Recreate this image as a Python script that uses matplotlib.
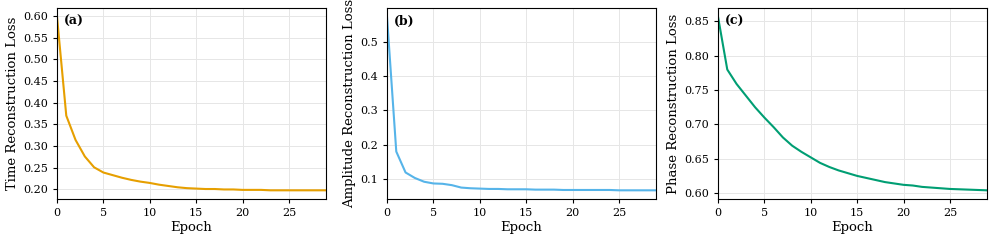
import matplotlib
matplotlib.use("Agg")
import matplotlib.pyplot as plt
from matplotlib.ticker import MultipleLocator, FormatStrFormatter
import numpy as np

epochs = list(range(30))
time_loss = [0.598, 0.370, 0.314, 0.276, 0.251, 0.239, 0.233, 0.227, 0.222, 0.218, 0.215,
             0.211, 0.208, 0.205, 0.203, 0.202, 0.201, 0.201, 0.200, 0.200, 0.199,
             0.199, 0.199, 0.198, 0.198, 0.198, 0.198, 0.198, 0.198, 0.198]
amp_loss = [0.573, 0.180, 0.119, 0.103, 0.092, 0.087, 0.086, 0.082, 0.075, 0.073, 0.072,
            0.071, 0.071, 0.070, 0.070, 0.070, 0.069, 0.069, 0.069, 0.068, 0.068,
            0.068, 0.068, 0.068, 0.068, 0.067, 0.067, 0.067, 0.067, 0.067]
phase_loss = [0.857, 0.780, 0.759, 0.742, 0.725, 0.710, 0.696, 0.681, 0.669, 0.660, 0.652,
              0.644, 0.638, 0.633, 0.629, 0.625, 0.622, 0.619, 0.616, 0.614, 0.612,
              0.611, 0.609, 0.608, 0.607, 0.606, 0.6055, 0.605, 0.6045, 0.604]

series = [time_loss, amp_loss, phase_loss]
ylabels = ["Time Reconstruction Loss", "Amplitude Reconstruction Loss", "Phase Reconstruction Loss"]
colors = ["#E69F00", "#56B4E9", "#009E73"]
panel = ["(a)", "(b)", "(c)"]

plt.rcParams['font.family'] = ['DejaVu Serif']
fig = plt.figure(figsize=(9.96, 2.43), dpi=100)
W, H = 996, 243
lefts = [57, 387, 718]
for i in range(3):
    ax = fig.add_axes([lefts[i] / W, 1 - 199 / H, 269 / W, 191 / H])
    ax.plot(epochs, series[i], color=colors[i], lw=1.5)
    ax.set_xlim(0, 29)
    ax.set_xticks([0, 5, 10, 15, 20, 25])
    if i == 0:
        ax.yaxis.set_major_locator(MultipleLocator(0.05))
        ax.yaxis.set_major_formatter(FormatStrFormatter('%.2f'))
    ax.grid(True, color="#e6e6e6", lw=0.7)
    ax.set_axisbelow(True)
    ax.tick_params(labelsize=8, length=3, width=0.8)
    ax.set_xlabel("Epoch", fontsize=9.5, labelpad=2)
    ax.set_ylabel(ylabels[i], fontsize=9.5, labelpad=3)
    ax.text(0.025, 0.93, panel[i], transform=ax.transAxes, fontsize=9, fontweight='bold', va='center')
    for s in ax.spines.values():
        s.set_linewidth(0.8)

fig.savefig("out.png", dpi=100)
